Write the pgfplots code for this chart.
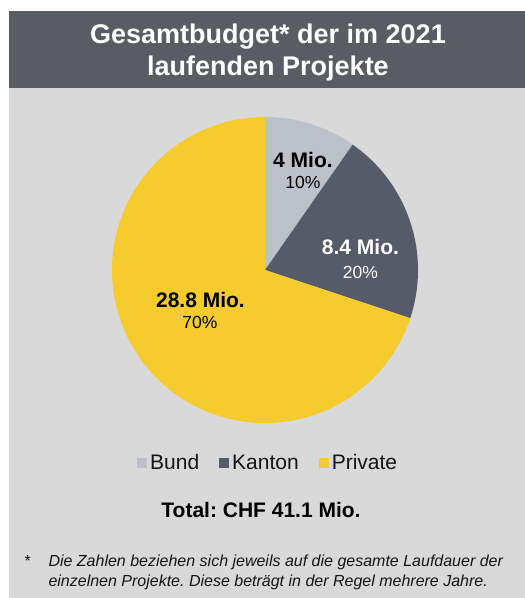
\documentclass[border=0pt]{standalone}
\usepackage{pgfplots}
\usepackage{pgfplotstable}
\pgfplotsset{compat=1.18}
\usepackage{fontspec}
\setmainfont{Liberation Sans}
\frenchspacing
\definecolor{header}{RGB}{90,92,99}
\definecolor{panel}{RGB}{217,217,217}
\definecolor{bund}{RGB}{188,192,200}
\definecolor{kanton}{RGB}{85,91,104}
\definecolor{private}{RGB}{245,203,46}
\definecolor{txt}{RGB}{20,20,20}

\pgfplotstableread{
label value
Bund 4
Kanton 8.4
Private 28.8
}\budget

\begin{document}
\begin{tikzpicture}[x=1pt,y=1pt]
\fill[white] (0,0) rectangle (525,598);
\fill[panel] (9,0) rectangle (525,587);
\fill[header] (9,510) rectangle (525,587);
\node[text=white, font=\fontsize{27}{32}\selectfont\bfseries, align=center] at (268,545) {Gesamtbudget* der im 2021\\laufenden Projekte};

\pgfplotstablegetelem{0}{value}\of\budget \pgfmathsetmacro\vA{\pgfplotsretval}
\pgfplotstablegetelem{1}{value}\of\budget \pgfmathsetmacro\vB{\pgfplotsretval}
\pgfplotstablegetelem{2}{value}\of\budget \pgfmathsetmacro\vC{\pgfplotsretval}
\pgfmathsetmacro\tot{\vA+\vB+\vC}
\pgfmathsetmacro\aA{90}
\pgfmathsetmacro\aB{90-360*\vA/\tot}
\pgfmathsetmacro\aC{\aB-360*\vB/\tot}
\pgfmathsetmacro\aD{90-360}

\begin{axis}[at={(265pt,328pt)}, anchor=center, x=153pt, y=153pt,
  xmin=-1.2, xmax=1.2, ymin=-1.2, ymax=1.2, hide axis, clip=false,
  legend columns=3,
  legend image code/.code={\fill[#1] (0pt,-5pt) rectangle (10pt,5pt);},
  legend style={at={(0.51,-0.025)}, anchor=center, draw=none, fill=none,
    font=\fontsize{21}{24}\selectfont, text=txt,
    nodes={inner sep=3pt},
    /tikz/every even column/.append style={column sep=17pt}},
]
\fill[bund] (axis cs:0,0) -- (axis cs:{cos(\aA)},{sin(\aA)}) arc[start angle=\aA, end angle=\aB, radius=153pt] -- cycle;
\fill[kanton] (axis cs:0,0) -- (axis cs:{cos(\aB)},{sin(\aB)}) arc[start angle=\aB, end angle=\aC, radius=153pt] -- cycle;
\fill[private] (axis cs:0,0) -- (axis cs:{cos(\aC)},{sin(\aC)}) arc[start angle=\aC, end angle=\aD, radius=153pt] -- cycle;
\addlegendimage{fill=bund, draw=none}\addlegendentry{Bund}
\addlegendimage{fill=kanton, draw=none}\addlegendentry{Kanton}
\addlegendimage{fill=private, draw=none}\addlegendentry{Private}
\node[font=\fontsize{21}{24}\selectfont\bfseries, text=black] at (axis cs:0.248,0.719) {4 Mio.};
\node[font=\fontsize{17.5}{20}\selectfont, text=black] at (axis cs:0.248,0.569) {10\%};
\node[font=\fontsize{21}{24}\selectfont\bfseries, text=white] at (axis cs:0.624,0.150) {8.4 Mio.};
\node[font=\fontsize{17.5}{20}\selectfont, text=white] at (axis cs:0.624,-0.013) {20\%};
\node[font=\fontsize{21}{24}\selectfont\bfseries, text=black] at (axis cs:-0.422,-0.196) {28.8 Mio.};
\node[font=\fontsize{17.5}{20}\selectfont, text=black] at (axis cs:-0.425,-0.346) {70\%};
\end{axis}

\node[font=\fontsize{21}{24}\selectfont\bfseries, text=black] at (261,88) {Total: CHF 41.1 Mio.};
\node[anchor=base west, font=\fontsize{16}{18}\selectfont, text=txt] at (21,31) {*};
\node[anchor=base west, font=\fontsize{16}{18}\selectfont\itshape, text=txt] at (45,31) {Die Zahlen beziehen sich jeweils auf die gesamte Laufdauer der};
\node[anchor=base west, font=\fontsize{16}{18}\selectfont\itshape, text=txt] at (45,11) {einzelnen Projekte. Diese beträgt in der Regel mehrere Jahre.};
\end{tikzpicture}
\end{document}
